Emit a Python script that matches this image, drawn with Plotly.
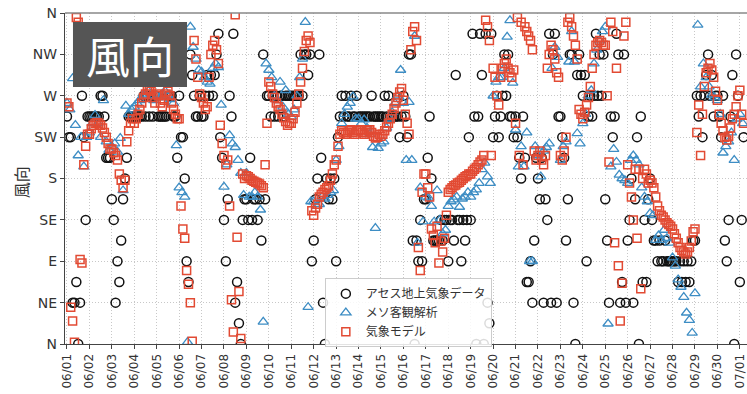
import pandas as pd
import plotly.graph_objects as go

# Wind direction in degrees (0 = N, 90 = E, 180 = S, 270 = W)
# Surface observations, 16-point compass, every 2 hours from 06/01 00:00
obs_dir = [
    247.5, 225, 225, 45, 45, 67.5, 0, 45, 270, 225, 135, 247.5,
    247.5, 247.5, 247.5, 247.5, 247.5, 247.5, 270, 270, 247.5, 202.5, 202.5, 202.5,
    157.5, 135, 45, 90, 67.5, 112.5, 157.5, 180, 202.5, 247.5, 247.5, 247.5,
    247.5, 247.5, 247.5, 247.5, 247.5, 270, 247.5, 270, 247.5, 270, 247.5, 270,
    270, 247.5, 247.5, 247.5, 247.5, 247.5, 270, 270, 270, 247.5, 247.5, 202.5,
    270, 225, 225, 180, 90, 67.5, 315, 292.5, 270, 247.5, 247.5, 270,
    247.5, 247.5, 270, 292.5, 270, 292.5, 270, 292.5, 315, 337.5, 225, 202.5,
    135, 90, 157.5, 270, 247.5, 337.5, 45, 67.5, 22.5, 0, 135, 157.5,
    157.5, 135, 202.5, 135, 157.5, 157.5, 135, 157.5, 112.5, 315, 157.5, 270,
    270, 247.5, 270, 247.5, 270, 247.5, 270, 270, 247.5, 270, 270, 270,
    270, 270, 270, 270, 270, 315, 270, 315, 315, 292.5, 315, 90,
    112.5, 157.5, 180, 315, 202.5, 45, 0, 180, 157.5, 180, 157.5, 180,
    90, 225, 247.5, 270, 247.5, 270, 247.5, 247.5, 270, 247.5, 247.5, 270,
    247.5, 247.5, 247.5, 247.5, 247.5, 247.5, 247.5, 270, 247.5, 247.5, 247.5, 247.5,
    247.5, 247.5, 270, 247.5, 270, 247.5, 247.5, 247.5, 247.5, 247.5, 225, 247.5,
    270, 247.5, 225, 315, 315, 112.5, 0, 112.5, 90, 135, 90, 157.5,
    157.5, 202.5, 247.5, 180, 112.5, 112.5, 112.5, 112.5, 135, 112.5, 135, 135,
    90, 135, 135, 112.5, 292.5, 135, 135, 90, 135, 112.5, 135, 225,
    135, 337.5, 247.5, 0, 247.5, 337.5, 292.5, 0, 337.5, 45, 22.5, 337.5,
    225, 247.5, 270, 225, 247.5, 270, 315, 270, 315, 247.5, 247.5, 225,
    247.5, 225, 202.5, 180, 247.5, 202.5, 67.5, 67.5, 90, 45, 112.5, 202.5,
    180, 157.5, 202.5, 45, 157.5, 135, 337.5, 45, 315, 337.5, 45, 247.5,
    247.5, 225, 202.5, 112.5, 157.5, 315, 315, 45, 0, 292.5, 315, 292.5,
    270, 292.5, 90, 247.5, 270, 247.5, 270, 337.5, 270, 315, 270, 315,
    157.5, 112.5, 45, 247.5, 225, 247.5, 337.5, 315, 45, 67.5, 315, 45,
    112.5, 135, 180, 45, 157.5, 225, 0, 247.5, 67.5, 135, 67.5, 157.5,
    180, 135, 112.5, 112.5, 90, 112.5, 90, 90, 112.5, 90, 90, 90,
    90, 90, 90, 67.5, 90, 67.5, 90, 67.5, 90, 67.5, 90, 112.5,
    112.5, 270, 247.5, 270, 225, 270, 292.5, 315, 270, 292.5, 247.5, 270,
    270, 247.5, 225, 270, 112.5, 90, 135, 247.5, 292.5, 0, 315, 270,
    67.5, 135, 225,
]

# Mesoscale objective analysis, every 3 hours from 06/01 00:00
meso_dir = [
    262, 255, 289, 238, 205, 225, 193, 225,
    230, 240, 249, 240, 225, 265, 220, 211,
    215, 218, 209, 224, 167, 259, 250, 255,
    258, 262, 265, 270, 272, 275, 270, 265,
    270, 268, 272, 275, 270, 266, 262, 216,
    170, 165, 160, 2, 345, 323, 310, 298,
    296, 290, 285, 283, 300, 305, 301, 260,
    171, 195, 227, 218, 214, 200, 186, 162,
    186, 160, 160, 165, 160, 146, 24, 305,
    298, 290, 270, 265, 285, 258, 276, 250,
    247, 255, 270, 290, 310, 350, 40, 155,
    155, 150, 152, 160, 158, 162, 165, 167,
    200, 215, 240, 250, 258, 262, 269, 245,
    245, 240, 244, 235, 228, 214, 126, 213,
    218, 220, 235, 245, 252, 262, 270, 298,
    262, 200, 263, 200, 335, 110, 170, 133,
    160, 159, 150, 133, 167, 135, 120, 124,
    150, 155, 157, 160, 149, 158, 160, 165,
    160, 165, 168, 175, 190, 197, 182, 175,
    270, 285, 290, 290, 300, 334, 352, 284,
    233, 193, 215, 193, 230, 90, 90, 215,
    205, 182, 210, 214, 218, 300, 323, 312,
    200, 215, 220, 307, 340, 307, 229, 218,
    240, 250, 270, 276, 305, 320, 330, 340,
    345, 22, 193, 212, 198, 184, 180, 178,
    175, 200, 205, 200, 195, 170, 160, 155,
    142, 140, 113, 118, 113, 124, 115, 110,
    94, 85, 70, 62, 51, 34, 26, 12,
    55, 347, 280, 305, 290, 280, 271, 268,
    265, 250, 208, 215, 220, 230, 200, 245,
    250, 240,
]

# Numerical weather model, every 2 hours from 06/01 00:00
model_dir = [
    262, 258, 40, 25, 2, 355, 350, 92, 88, 195, 215, 228,
    228, 234, 238, 240, 241, 240, 238, 235, 230, 225, 218, 212,
    212, 208, 205, 200, 185, 178, 170, 178, 220, 232, 240, 245,
    240, 245, 250, 255, 262, 268, 272, 276, 278, 275, 268, 262,
    272, 270, 262, 258, 265, 272, 275, 270, 262, 255, 250, 245,
    245, 150, 125, 115, 80, 65, 45, 3, 330, 310, 290, 272,
    268, 262, 255, 258, 290, 315, 325, 330, 320, 305, 238, 218,
    205, 195, 200, 150, 48, 13, 358, 116, 57, 6, 185, 180,
    183, 182, 180, 178, 177, 176, 175, 174, 172, 170, 195, 240,
    285, 280, 272, 268, 262, 258, 255, 250, 246, 242, 238, 240,
    240, 245, 252, 262, 272, 285, 300, 318, 330, 335, 328, 145,
    140, 148, 152, 160, 163, 165, 168, 170, 172, 178, 185, 195,
    200, 215, 228, 232, 230, 228, 230, 232, 233, 230, 228, 232,
    232, 233, 230, 228, 230, 232, 233, 230, 226, 224, 225, 228,
    226, 228, 232, 236, 240, 245, 250, 256, 262, 268, 274, 278,
    265, 250, 240, 228, 320, 340, 345, 330, 105, 80, 165, 185,
    185, 170, 160, 125, 118, 110, 128, 88, 112, 100, 115, 140,
    165, 168, 170, 172, 173, 175, 176, 178, 180, 182, 183, 185,
    185, 188, 190, 192, 195, 198, 200, 205, 352, 345, 330, 205,
    300, 290, 270, 260, 290, 300, 305, 310, 300, 295, 290, 298,
    240, 355, 205, 350, 195, 345, 340, 335, 330, 320, 210, 200,
    205, 210, 200, 195, 205, 300, 315, 325, 320, 310, 295, 290,
    205, 200, 210, 225, 350, 355, 345, 335, 325, 310, 255, 250,
    245, 252, 260, 268, 280, 300, 315, 325, 328, 330, 328, 325,
    325, 270, 198, 350, 340, 110, 300, 85, 25, 66, 335, 350,
    195, 175, 160, 135, 190, 115, 190, 60, 180, 190, 185, 175,
    178, 175, 170, 160, 150, 145, 140, 138, 135, 132, 130, 128,
    125, 120, 115, 110, 105, 102, 100, 98, 100, 105, 112, 122,
    125, 230, 260, 205, 250, 280, 295, 300, 305, 298, 290, 275,
    265, 250, 240, 232, 225, 222, 226, 235, 245, 250, 258, 270,
    276, 250, 240,
]

dir_ticks = [0, 45, 90, 135, 180, 225, 270, 315, 360]
dir_labels = ["N", "NE", "E", "SE", "S", "SW", "W", "NW", "N"]

series_names = ["アセス地上気象データ", "メソ客観解析", "気象モデル"]

t_obs = pd.date_range("2023-06-01 00:00", periods=len(obs_dir), freq="2h")
t_meso = pd.date_range("2023-06-01 00:00", periods=len(meso_dir), freq="3h")
t_model = pd.date_range("2023-06-01 00:00", periods=len(model_dir), freq="2h")

fig = go.Figure()
fig.add_trace(go.Scatter(
    x=t_obs, y=obs_dir, mode="markers", name=series_names[0],
    marker=dict(symbol="circle-open", size=9, color="#111111", line=dict(width=1.5)),
))
fig.add_trace(go.Scatter(
    x=t_meso, y=meso_dir, mode="markers", name=series_names[1],
    marker=dict(symbol="triangle-up-open", size=9, color="#3D8DC4", line=dict(width=1.3)),
))
fig.add_trace(go.Scatter(
    x=t_model, y=model_dir, mode="markers", name=series_names[2],
    marker=dict(symbol="square-open", size=8, color="#E24A33", line=dict(width=1.5)),
))

grid = dict(showgrid=True, gridcolor="#c8c8c8", griddash="1px,2px", gridwidth=1, zeroline=False)

fig.update_layout(
    width=747, height=394,
    margin=dict(l=65, r=0, t=13, b=50),
    paper_bgcolor="white", plot_bgcolor="white",
    font=dict(family="DejaVu Sans, Noto Sans CJK JP", color="#333333"),
    showlegend=True,
    legend=dict(
        x=0.381, y=0.199, xanchor="left", yanchor="top",
        bgcolor="rgba(255,255,255,0.85)", bordercolor="#cccccc", borderwidth=1,
        font=dict(family="Noto Sans CJK JP", size=12, color="#333333"),
        itemsizing="trace", tracegroupgap=0,
    ),
    xaxis=dict(
        type="date",
        range=["2023-05-31 21:52", "2023-07-01 07:40"],
        tick0="2023-06-01", dtick=86400000, tickformat="%m/%d",
        tickangle=-90, ticks="outside", ticklen=4, tickcolor="#444444",
        tickfont=dict(size=12, color="#333333"),
        showline=True, linecolor="#444444", linewidth=1.3,
        **grid,
    ),
    yaxis=dict(
        range=[0, 360], tickvals=dir_ticks, ticktext=dir_labels,
        ticks="outside", ticklen=4, tickcolor="#444444",
        tickfont=dict(size=14, color="#333333"),
        showline=True, linecolor="#444444", linewidth=1.3,
        **grid,
    ),
    shapes=[
        # top frame line
        dict(type="line", xref="paper", yref="paper", x0=0, x1=1, y0=1, y1=1,
             line=dict(color="#888888", width=1.3)),
        # title plate
        dict(type="rect", xref="paper", yref="paper", layer="above",
             x0=0.0117, x1=0.1789, y0=0.7764, y1=0.9728,
             fillcolor="#555555", line=dict(width=0)),
    ],
    annotations=[
        dict(text="風向", xref="paper", yref="paper", x=0.0953, y=0.8746,
             xanchor="center", yanchor="middle", showarrow=False,
             font=dict(family="Noto Sans CJK JP", size=44, color="white")),
        dict(text="風向", xref="paper", yref="paper", x=-0.0645, y=0.489,
             xanchor="center", yanchor="middle", showarrow=False, textangle=-90,
             font=dict(family="Noto Sans CJK JP", size=16, color="#333333")),
    ],
)

fig.write_html("out.html")
